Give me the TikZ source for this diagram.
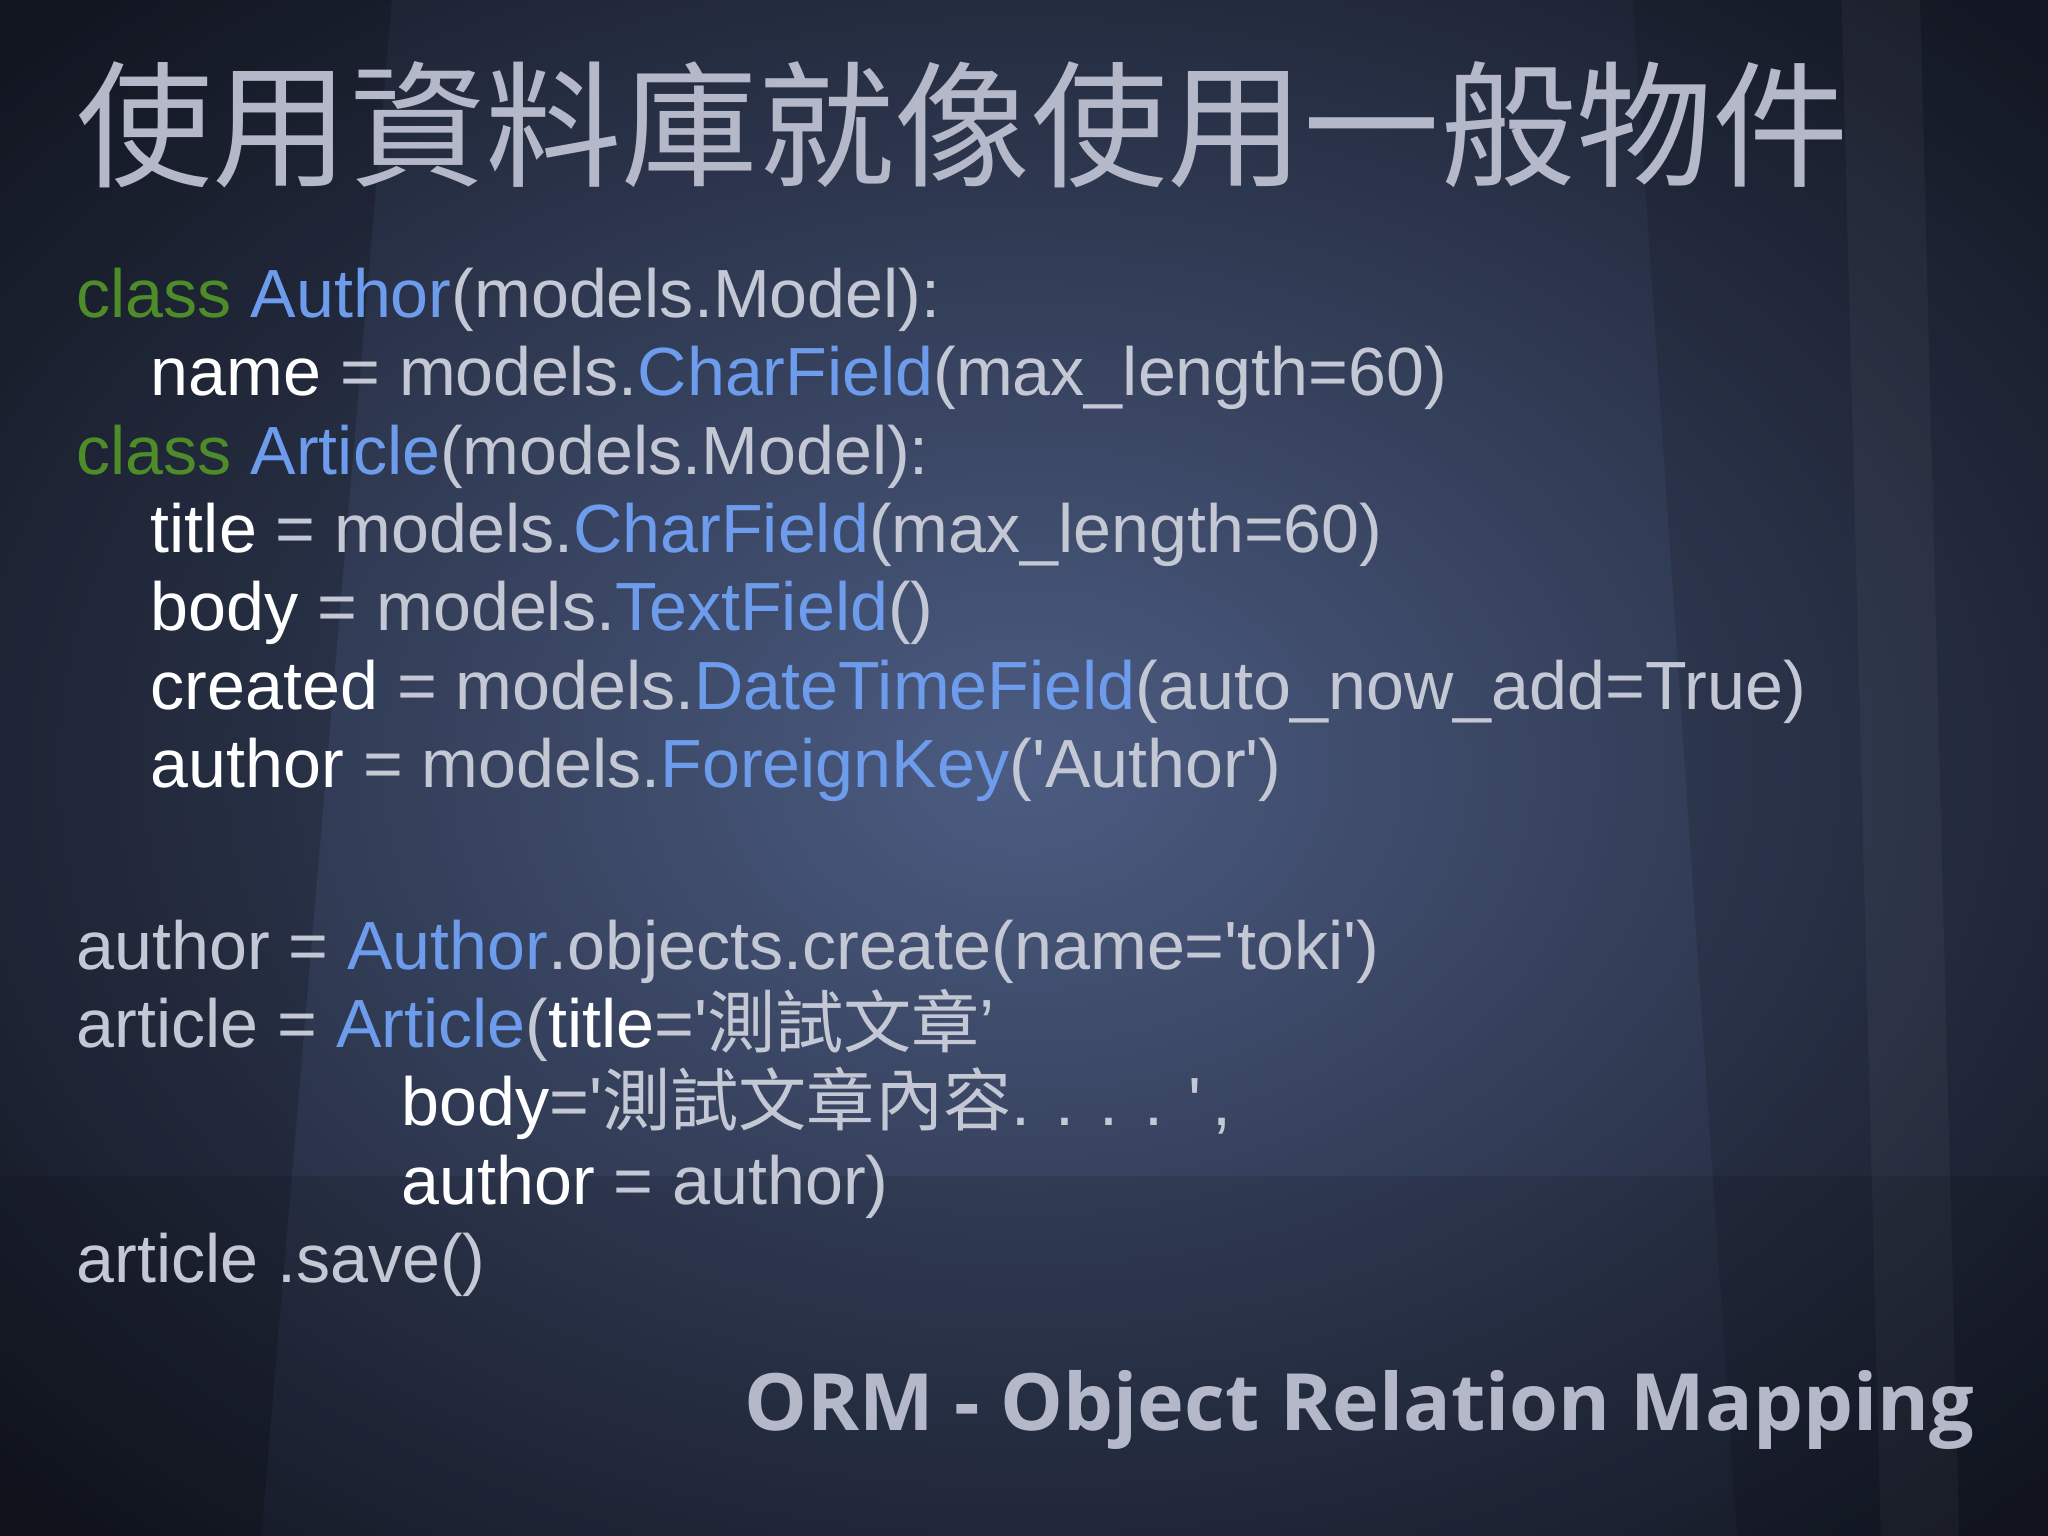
\documentclass[tikz,border=0pt]{standalone}
\usepackage{fontspec}
\setmainfont{Liberation Sans}
\newfontfamily\cjk{Noto Sans CJK TC}
\newfontfamily\ormfont{Open Sans}
\usetikzlibrary{fadings}
\newcommand\sq{\textquotesingle}
\definecolor{gtx}{HTML}{C4C8D4}
\definecolor{wtx}{HTML}{FFFFFF}
\definecolor{kw}{HTML}{4E8C2A}
\definecolor{bl}{HTML}{6E9CEC}
\definecolor{ttl}{HTML}{B4B8C8}
\definecolor{bgc}{HTML}{4C5C82}
\definecolor{bge}{HTML}{161B28}
\begin{document}
\begin{tikzpicture}[x=0.01306cm,y=-0.01306cm,
  code/.style={anchor=base west,inner sep=0pt,text=gtx,font=\fontsize{19.4}{23}\selectfont},
  ttlst/.style={anchor=base west,inner sep=0pt,text=ttl,font=\cjk\fontsize{38.8}{42}\selectfont},
  orm/.style={anchor=base east,inner sep=0pt,text=ttl,font=\ormfont\bfseries\fontsize{22.5}{26}\selectfont}]
\useasboundingbox (0,0) rectangle (1568,1176);
\shade[inner color=bgc,outer color=bge] (-300,-200) rectangle (1868,1376);
\fill[black,opacity=0.18] (0,0) -- (300,0) -- (200,1176) -- (0,1176) -- cycle;
\fill[black,opacity=0.12] (1250,0) -- (1568,0) -- (1568,1176) -- (1330,1176) -- cycle;
\fill[white,opacity=0.04] (1410,0) -- (1470,0) -- (1500,1176) -- (1440,1176) -- cycle;
\fill[black,opacity=0.10] (0,900) rectangle (1568,1176);
\node[ttlst] (t) at (58,135) {使用資料庫就像使用一般物件};
\node[code] (l1) at (58,243) {\textcolor{kw}{class} \textcolor{bl}{Author}(models.Model):};
\node[code] (l2) at (115,303) {\textcolor{wtx}{name} = models.\textcolor{bl}{CharField}(max\_length=60)};
\node[code] (l3) at (58,363) {\textcolor{kw}{class} \textcolor{bl}{Article}(models.Model):};
\node[code] (l4) at (115,423) {\textcolor{wtx}{title} = models.\textcolor{bl}{CharField}(max\_length=60)};
\node[code] (l5) at (115,483) {\textcolor{wtx}{body} = models.\textcolor{bl}{TextField}()};
\node[code] (l6) at (115,543) {\textcolor{wtx}{created} = models.\textcolor{bl}{DateTimeField}(auto\_now\_add=True)};
\node[code] (l7) at (115,603) {\textcolor{wtx}{author} = models.\textcolor{bl}{ForeignKey}(\sq Author\sq)};
\node[code] (m1) at (58,742) {author = \textcolor{bl}{Author}.objects.create(name=\sq toki\sq)};
\node[code] (m2) at (58,802) {article = \textcolor{bl}{Article}(\textcolor{wtx}{title}=\sq{\cjk 測試文章}’};
\node[code] (m3) at (307,862) {\textcolor{wtx}{body}=\sq{\cjk 測試文章內容}. . . . \sq\,,};
\node[code] (m4) at (307,922) {\textcolor{wtx}{author} = author)};
\node[code] (m5) at (58,982) {article .save()};
\node[orm] (o) at (1512,1095) {ORM - Object Relation Mapping};
\end{tikzpicture}
\end{document}
